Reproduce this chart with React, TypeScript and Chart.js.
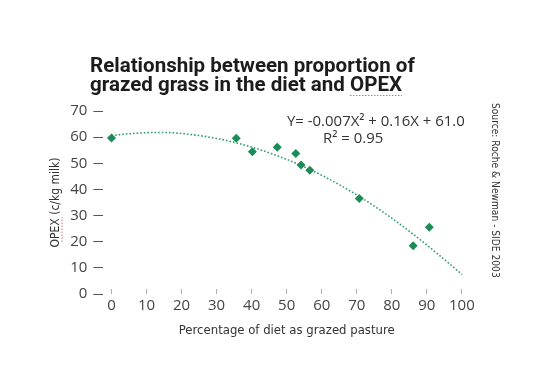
import React, { useEffect, useRef } from 'react';
import { Chart, registerables } from 'chart.js';

Chart.register(...registerables);

const titleLines = ['Relationship between proportion of', 'grazed grass in the diet and OPEX'];
const xTitle = 'Percentage of diet as grazed pasture';
const yTitle = 'OPEX (c/kg milk)';
const equationText = 'Y= -0.007X² + 0.16X + 61.0';
const r2Text = 'R² = 0.95';
const sourceText = 'Source: Roche & Newman - SIDE 2003';

const xTicks = [0, 10, 20, 30, 40, 50, 60, 70, 80, 90, 100];
const yTicks = [0, 10, 20, 30, 40, 50, 60, 70];

const pointX = [0, 35.6, 40.2, 47.3, 52.6, 54.1, 56.6, 70.7, 86.1, 90.7];
const pointY = [59.7, 59.6, 54.4, 56.1, 53.7, 49.3, 47.3, 36.5, 18.5, 25.5];

const trendX = [0, 5, 10, 15, 20, 25, 30, 35, 40, 45, 50, 55, 60, 65, 70, 75, 80, 85, 90, 95, 100];
const trendY = [60.6, 61.3, 61.7, 61.8, 61.4, 60.6, 59.5, 58.0, 56.2, 54.0, 51.5, 48.6, 45.4, 41.8, 37.9, 33.6, 29.0, 24.0, 18.7, 13.2, 7.5];

const CONDENSED = '"Liberation Sans Narrow", "DejaVu Sans Condensed", "Roboto Condensed", Roboto, sans-serif';

function fitFont(ctx: CanvasRenderingContext2D, text: string, weight: string, family: string, target: number) {
  ctx.font = `${weight} 100px ${family}`;
  const w = ctx.measureText(text).width;
  const size = (100 * target) / w;
  ctx.font = `${weight} ${size}px ${family}`;
  return size;
}

function squiggle(ctx: CanvasRenderingContext2D, x1: number, y1: number, x2: number, y2: number) {
  ctx.save();
  ctx.strokeStyle = '#e26d7a';
  ctx.lineWidth = 1;
  ctx.setLineDash([1.5, 1.5]);
  ctx.beginPath();
  ctx.moveTo(x1, y1);
  ctx.lineTo(x2, y2);
  ctx.stroke();
  ctx.restore();
}

const overlayPlugin = {
  id: 'overlayTexts',
  afterDraw(chart: any) {
    const ctx: CanvasRenderingContext2D = chart.ctx;
    ctx.save();
    // Title
    ctx.fillStyle = '#1c1c1c';
    ctx.textAlign = 'left';
    ctx.textBaseline = 'alphabetic';
    fitFont(ctx, titleLines[0], 'bold', 'Roboto, sans-serif', 325);
    ctx.fillText(titleLines[0], 90, 72);
    ctx.fillText(titleLines[1], 90, 91);
    const pre = ctx.measureText('grazed grass in the diet and ').width;
    const ow = ctx.measureText('OPEX').width;
    squiggle(ctx, 90 + pre, 95.5, 90 + pre + ow, 95.5);

    // Equation
    ctx.fillStyle = '#333333';
    fitFont(ctx, equationText, 'normal', '"Open Sans", sans-serif', 178);
    ctx.fillText(equationText, 287, 126);
    ctx.fillText(r2Text, 323, 143);

    // Source (rotated)
    ctx.save();
    ctx.translate(495, 103);
    ctx.rotate(Math.PI / 2);
    ctx.fillStyle = '#333333';
    ctx.textBaseline = 'middle';
    fitFont(ctx, sourceText, 'normal', CONDENSED, 175);
    ctx.fillText(sourceText, 0, 0);
    ctx.restore();

    // spell-check squiggle next to y title "OPEX"
    squiggle(ctx, 62, 242, 62, 217);
    ctx.restore();
  },
};

export default function App() {
  const ref = useRef<HTMLCanvasElement | null>(null);

  useEffect(() => {
    if (!ref.current) return;
    const chart = new Chart(ref.current, {
      type: 'scatter',
      data: {
        datasets: [
          {
            type: 'line',
            label: 'Trend',
            data: trendX.map((x, i) => ({ x, y: trendY[i] })),
            borderColor: '#2f9e6c',
            borderWidth: 1.6,
            borderDash: [1.6, 2],
            pointRadius: 0,
            fill: false,
            tension: 0.4,
            cubicInterpolationMode: 'monotone',
            order: 2,
          } as any,
          {
            type: 'scatter',
            label: 'Farms',
            data: pointX.map((x, i) => ({ x, y: pointY[i] })),
            backgroundColor: '#1b8c57',
            borderColor: '#1b8c57',
            pointStyle: 'rectRot',
            pointRadius: 4.5,
            borderWidth: 0,
            order: 1,
          },
        ],
      },
      options: {
        animation: false,
        responsive: false,
        layout: { padding: { left: 46, right: 67, top: 111, bottom: 33 } },
        plugins: {
          legend: { display: false },
          title: { display: false },
          tooltip: { enabled: false },
        },
        scales: {
          x: {
            type: 'linear',
            min: -2.31,
            max: 102.31,
            afterFit: (s: any) => { s.height = 50; },
            afterBuildTicks: (s: any) => { s.ticks = xTicks.map((v) => ({ value: v })); },
            border: { display: false },
            grid: { drawOnChartArea: false, drawTicks: true, tickLength: -5, color: '#b0b0b0', lineWidth: 1 },
            ticks: {
              padding: 8,
              color: '#444444',
              font: { family: '"Open Sans", sans-serif', size: 15 },
              maxRotation: 0,
            },
            title: {
              display: true,
              text: xTitle,
              color: '#333333',
              font: { family: CONDENSED, size: 13 },
              padding: { top: 0, bottom: 6 },
            },
          },
          y: {
            type: 'linear',
            min: 0,
            max: 70,
            afterFit: (s: any) => { s.width = 57.4; },
            afterBuildTicks: (s: any) => { s.ticks = yTicks.map((v) => ({ value: v })); },
            border: { display: false },
            grid: { drawOnChartArea: false, drawTicks: true, tickLength: 10, color: '#555555', lineWidth: 1 },
            ticks: {
              padding: 6,
              color: '#444444',
              font: { family: '"Open Sans", sans-serif', size: 15 },
            },
            title: {
              display: true,
              text: yTitle,
              color: '#333333',
              font: { family: CONDENSED, size: 12 },
              padding: { top: 3, bottom: 0 },
            },
          },
        },
      },
      plugins: [overlayPlugin],
    });
    return () => chart.destroy();
  }, []);

  return (
    <div style={{ position: 'fixed', left: 0, top: 0, width: 537, height: 377, background: '#ffffff' }}>
      <canvas ref={ref} width={537} height={377} style={{ display: 'block' }} />
    </div>
  );
}
